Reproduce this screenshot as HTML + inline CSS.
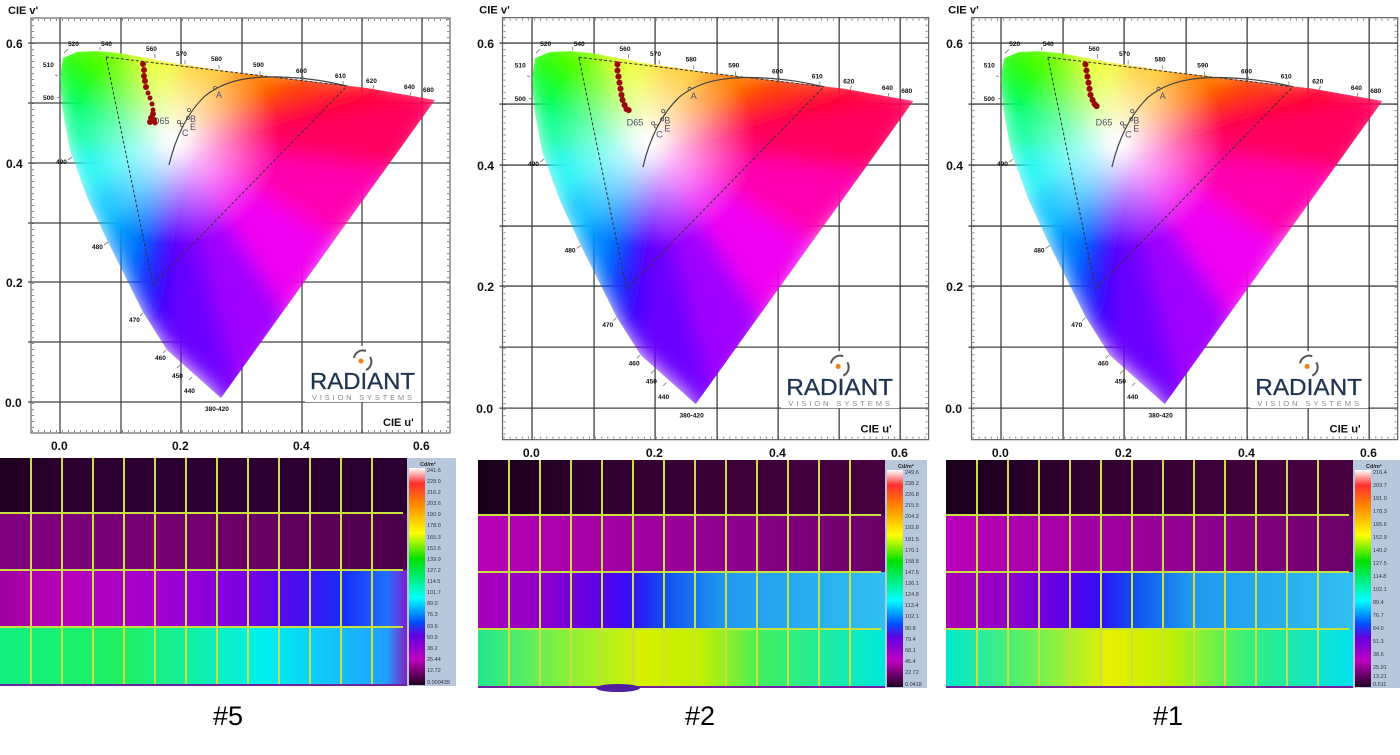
<!DOCTYPE html>
<html><head><meta charset="utf-8"><style>
html,body{margin:0;padding:0;background:#fff;width:1400px;height:755px;overflow:hidden}
svg{display:block}
.t{font-family:"Liberation Sans",sans-serif}
</style></head><body>
<svg width="1400" height="755" viewBox="0 0 1400 755" xmlns="http://www.w3.org/2000/svg">
<defs>
<clipPath id="loc"><path d="M221,398 L167,350 L143,312 L127,280 L107,240 L87,197 L70,150 L62,107 L60,77 L63,58 L77,52 L97,51 L120,53 L167,62 L233,72 L300,80 L367,88 L435,100 Z"/></clipPath>
<filter id="bl" x="-20%" y="-20%" width="140%" height="140%"><feGaussianBlur stdDeviation="10"/></filter>
<radialGradient id="wh" cx="175" cy="140" r="105" gradientUnits="userSpaceOnUse">
<stop offset="0" stop-color="#fff" stop-opacity="1"/><stop offset="0.3" stop-color="#fff" stop-opacity="0.7"/><stop offset="1" stop-color="#fff" stop-opacity="0"/></radialGradient>
<linearGradient id="cb" x1="0" y1="0" x2="0" y2="1">
<stop offset="0" stop-color="#ffffff"/><stop offset="0.07" stop-color="#ff3030"/><stop offset="0.16" stop-color="#ff8000"/><stop offset="0.3" stop-color="#ffff00"/><stop offset="0.42" stop-color="#00e000"/><stop offset="0.6" stop-color="#00ffff"/><stop offset="0.71" stop-color="#0050ff"/><stop offset="0.77" stop-color="#6000e0"/><stop offset="0.88" stop-color="#c000c0"/><stop offset="1" stop-color="#200020"/></linearGradient>
<g id="chart">
<rect x="31" y="18" width="419" height="415" fill="#fff" stroke="#666" stroke-width="1.2"/>
<g stroke="#888" stroke-width="2" stroke-dasharray="1 5">
<line x1="33" y1="19" x2="33" y2="432"/><line x1="448" y1="19" x2="448" y2="432"/>
<line x1="32" y1="20" x2="449" y2="20"/><line x1="32" y1="431" x2="449" y2="431"/></g>
<g stroke="#444" stroke-width="1.3">
<line x1="60" y1="18" x2="60" y2="433"/><line x1="121" y1="18" x2="121" y2="433"/><line x1="181" y1="18" x2="181" y2="433"/><line x1="242" y1="18" x2="242" y2="433"/><line x1="302" y1="18" x2="302" y2="433"/><line x1="362" y1="18" x2="362" y2="433"/><line x1="422" y1="18" x2="422" y2="433"/>
<line x1="28" y1="43" x2="450" y2="43"/><line x1="28" y1="103" x2="450" y2="103"/><line x1="28" y1="163" x2="450" y2="163"/><line x1="28" y1="223" x2="450" y2="223"/><line x1="28" y1="282" x2="450" y2="282"/><line x1="28" y1="342" x2="450" y2="342"/><line x1="28" y1="402" x2="450" y2="402"/></g>
<g clip-path="url(#loc)">
<g filter="url(#bl)">
<polygon points="175,140 221,398 167,350" fill="#6a00ff"/>
<polygon points="175,140 167,350 143,312" fill="#2a00ff"/>
<polygon points="175,140 143,312 127,280" fill="#0040ff"/>
<polygon points="175,140 127,280 107,240" fill="#0088ff"/>
<polygon points="175,140 107,240 87,197" fill="#00c0ff"/>
<polygon points="175,140 87,197 70,150" fill="#00f4f0"/>
<polygon points="175,140 70,150 62,107" fill="#00ff90"/>
<polygon points="175,140 62,107 50,70" fill="#00ff50"/>
<polygon points="175,140 50,70 60,40" fill="#20ff10"/>
<polygon points="175,140 60,40 100,40" fill="#50ff00"/>
<polygon points="175,140 100,40 130,45" fill="#90ff00"/>
<polygon points="175,140 130,45 180,50" fill="#e8ff00"/>
<polygon points="175,140 180,50 240,60" fill="#ffc000"/>
<polygon points="175,140 240,60 300,70" fill="#ff8000"/>
<polygon points="175,140 300,70 370,78" fill="#ff4000"/>
<polygon points="175,140 370,78 450,95" fill="#ff0030"/>
<polygon points="175,140 450,95 400,170" fill="#ff0060"/>
<polygon points="175,140 400,170 340,240" fill="#ff00b0"/>
<polygon points="175,140 340,240 290,320" fill="#f000f0"/>
<polygon points="175,140 290,320 240,400" fill="#a000ff"/>
<polygon points="175,140 240,400 221,420" fill="#7000ff"/>
</g>
<rect x="30" y="30" width="430" height="400" fill="url(#wh)"/>
</g>
<polygon points="106,57 347,86 153,285" fill="none" stroke="#333" stroke-width="1" stroke-dasharray="3 2"/>
<path d="M169,165 C175,140 185,115 205,96 C225,80 250,76 280,77 C310,78 330,82 347,86" fill="none" stroke="#444" stroke-width="1.2"/>
<g fill="none" stroke="#555" stroke-width="0.8"><circle cx="215" cy="88" r="1.6"/><circle cx="189" cy="110" r="1.6"/><circle cx="188" cy="118" r="1.6"/><circle cx="179" cy="122" r="1.6"/><circle cx="182" cy="125" r="1.6"/></g>
<g class="t" fill="#505070" font-size="9"><text x="216" y="98">A</text><text x="153" y="124">D65</text><text x="190" y="122">B</text><text x="190" y="130">E</text><text x="182" y="136">C</text></g>
<g class="t" font-weight="bold" font-size="6.5" fill="#111">
<text x="68" y="46">520</text><text x="101" y="46">540</text><text x="146" y="51">560</text><text x="176" y="56">570</text><text x="211" y="61">580</text><text x="253" y="67">590</text><text x="296" y="73">600</text><text x="335" y="78">610</text><text x="366" y="83">620</text><text x="404" y="89">640</text><text x="423" y="92">680</text>
<text x="43" y="67">510</text><text x="43" y="100">500</text><text x="56" y="164">490</text><text x="92" y="249">480</text><text x="129" y="322">470</text><text x="155" y="360">460</text><text x="172" y="378">450</text><text x="184" y="393">440</text><text x="205" y="411">380-420</text></g>
<g stroke="#777" stroke-width="0.8">
<line x1="64" y1="53" x2="68" y2="49"/><line x1="100" y1="50" x2="100" y2="47"/><line x1="155" y1="58" x2="155" y2="54"/><line x1="185" y1="64" x2="185" y2="60"/><line x1="219" y1="69" x2="219" y2="65"/><line x1="260" y1="75" x2="260" y2="71"/><line x1="303" y1="80" x2="303" y2="76"/><line x1="343" y1="85" x2="343" y2="81"/><line x1="373" y1="89" x2="374" y2="85"/><line x1="410" y1="96" x2="411" y2="92"/>
<line x1="58" y1="76" x2="55" y2="75"/><line x1="60" y1="97" x2="57" y2="98"/><line x1="72" y1="157" x2="68" y2="160"/><line x1="108" y1="242" x2="104" y2="245"/><line x1="143" y1="313" x2="140" y2="316"/><line x1="166" y1="350" x2="163" y2="353"/><line x1="180" y1="365" x2="177" y2="368"/><line x1="192" y1="377" x2="189" y2="380"/></g>
<rect x="305" y="346" width="116" height="56" fill="#fff"/>
<path d="M354,358 A9,9 0 0 1 366,351" fill="none" stroke="#555" stroke-width="2"/>
<path d="M370,357 A9,9 0 0 1 366,370" fill="none" stroke="#555" stroke-width="2"/>
<circle cx="361" cy="361" r="2.5" fill="#f08020"/>
<text class="t" x="310" y="389" font-size="23" fill="#1f3553" stroke="#1f3553" stroke-width="0.3" textLength="105" lengthAdjust="spacingAndGlyphs">RADIANT</text>
<text class="t" x="312" y="400" font-size="7.5" fill="#8a8a8a" textLength="100" lengthAdjust="spacing">VISION SYSTEMS</text>
<g class="t" font-weight="bold" fill="#111">
<text x="8" y="14" font-size="11">CIE v'</text><text x="383" y="426" font-size="11">CIE u'</text>
<g font-size="12"><text x="6" y="48">0.6</text><text x="6" y="168">0.4</text><text x="6" y="287">0.2</text><text x="5" y="407">0.0</text>
<text x="51" y="450">0.0</text><text x="172" y="450">0.2</text><text x="293" y="450">0.4</text><text x="413" y="450">0.6</text></g></g>
</g>
<g id="grid" stroke="#c8e040" stroke-width="2" fill="none">
<line x1="31" y1="0" x2="31" y2="228"/><line x1="62" y1="0" x2="62" y2="228"/><line x1="93" y1="0" x2="93" y2="228"/><line x1="124" y1="0" x2="124" y2="228"/><line x1="155" y1="0" x2="155" y2="228"/><line x1="186" y1="0" x2="186" y2="228"/><line x1="217" y1="0" x2="217" y2="228"/><line x1="248" y1="0" x2="248" y2="228"/><line x1="279" y1="0" x2="279" y2="228"/><line x1="310" y1="0" x2="310" y2="228"/><line x1="341" y1="0" x2="341" y2="228"/><line x1="372" y1="0" x2="372" y2="228"/>
<line x1="0" y1="55" x2="403" y2="55"/><line x1="0" y1="112" x2="403" y2="112"/><line x1="0" y1="169" x2="403" y2="169"/>
<line x1="0" y1="227" x2="407" y2="227" stroke="#7020a0"/></g>
</defs>

<!-- Panel 1 -->
<use href="#chart"/>
<g fill="#9a0a0a"><circle cx="143" cy="64" r="3"/><circle cx="144" cy="70" r="3"/><circle cx="144" cy="76" r="3"/><circle cx="145" cy="81" r="3"/><circle cx="146" cy="87" r="3"/><circle cx="148" cy="93" r="2.5"/><circle cx="150" cy="98" r="2.5"/><circle cx="152" cy="104" r="2.5"/><circle cx="153" cy="110" r="2.5"/><circle cx="153" cy="114" r="3"/><circle cx="151" cy="118" r="3"/><circle cx="154" cy="120" r="3"/><circle cx="150" cy="122" r="3"/><circle cx="155" cy="123" r="2.5"/></g>
<!-- Panel 2 -->
<g transform="translate(471,-0.7) scale(1.017)"><use href="#chart"/>
<g fill="#9a0a0a"><circle cx="144" cy="64" r="3"/><circle cx="144" cy="70" r="3"/><circle cx="145" cy="76" r="3"/><circle cx="146" cy="82" r="3"/><circle cx="147" cy="88" r="3"/><circle cx="148" cy="94" r="3"/><circle cx="149" cy="99" r="3"/><circle cx="151" cy="104" r="3"/><circle cx="153" cy="108" r="3"/><circle cx="155" cy="109" r="3"/></g></g>
<!-- Panel 3 -->
<g transform="translate(940,-0.7) scale(1.017)"><use href="#chart"/>
<g fill="#9a0a0a"><circle cx="143" cy="64" r="3"/><circle cx="144" cy="70" r="3"/><circle cx="145" cy="76" r="3"/><circle cx="146" cy="82" r="3"/><circle cx="147" cy="88" r="3"/><circle cx="148" cy="94" r="3"/><circle cx="150" cy="99" r="3"/><circle cx="152" cy="103" r="3"/><circle cx="154" cy="105" r="3"/></g></g>

<defs>
<linearGradient id="h1r1" x1="0" x2="1"><stop offset="0" stop-color="#200020"/><stop offset="0.2" stop-color="#2e0032"/><stop offset="1" stop-color="#2a0030"/></linearGradient>
<linearGradient id="h1r2" x1="0" x2="1"><stop offset="0" stop-color="#800080"/><stop offset="0.5" stop-color="#72006e"/><stop offset="1" stop-color="#4a0048"/></linearGradient>
<linearGradient id="h1r3" x1="0" x2="1"><stop offset="0" stop-color="#a000a0"/><stop offset="0.15" stop-color="#b800b8"/><stop offset="0.4" stop-color="#a000d0"/><stop offset="0.6" stop-color="#7a00e0"/><stop offset="0.75" stop-color="#4010f0"/><stop offset="0.85" stop-color="#1830f8"/><stop offset="0.95" stop-color="#2070ff"/><stop offset="1" stop-color="#8020d0"/></linearGradient>
<linearGradient id="h1r4" x1="0" x2="1"><stop offset="0" stop-color="#10f080"/><stop offset="0.3" stop-color="#20f060"/><stop offset="0.5" stop-color="#10f0b0"/><stop offset="0.65" stop-color="#00f0f0"/><stop offset="0.8" stop-color="#10c8f8"/><stop offset="0.95" stop-color="#20a0ff"/><stop offset="1" stop-color="#8020c0"/></linearGradient>
<linearGradient id="h2r1" x1="0" x2="1"><stop offset="0" stop-color="#180018"/><stop offset="0.3" stop-color="#300030"/><stop offset="1" stop-color="#480040"/></linearGradient>
<linearGradient id="h2r2" x1="0" x2="1"><stop offset="0" stop-color="#b800b8"/><stop offset="0.5" stop-color="#980098"/><stop offset="1" stop-color="#6a0066"/></linearGradient>
<linearGradient id="h2r3" x1="0" x2="1"><stop offset="0" stop-color="#a800b8"/><stop offset="0.15" stop-color="#9000c8"/><stop offset="0.3" stop-color="#5a00e8"/><stop offset="0.38" stop-color="#3010f8"/><stop offset="0.46" stop-color="#1050f0"/><stop offset="0.6" stop-color="#2098f0"/><stop offset="1" stop-color="#30c0f0"/></linearGradient>
<linearGradient id="h2r4" x1="0" x2="1"><stop offset="0" stop-color="#20e890"/><stop offset="0.2" stop-color="#80f040"/><stop offset="0.4" stop-color="#d8f000"/><stop offset="0.55" stop-color="#c0f000"/><stop offset="0.7" stop-color="#40f060"/><stop offset="1" stop-color="#00e8e0"/></linearGradient>
<linearGradient id="h3r4" x1="0" x2="1"><stop offset="0" stop-color="#00e8d0"/><stop offset="0.2" stop-color="#60f060"/><stop offset="0.4" stop-color="#e8f000"/><stop offset="0.55" stop-color="#c0f000"/><stop offset="0.75" stop-color="#30f080"/><stop offset="1" stop-color="#00e0f0"/></linearGradient>
</defs>
<g transform="translate(0,458)">
<rect x="0" y="0" width="407" height="55" fill="url(#h1r1)"/>
<rect x="0" y="55" width="407" height="57" fill="url(#h1r2)"/>
<rect x="0" y="112" width="407" height="57" fill="url(#h1r3)"/>
<rect x="0" y="169" width="407" height="59" fill="url(#h1r4)"/>
<use href="#grid"/>
<rect x="407" y="0" width="49" height="228" fill="#b8c8dc"/>
<rect x="409" y="10" width="16" height="217" fill="url(#cb)"/>
<text class="t" x="420" y="8" font-size="5.5" font-weight="bold" fill="#222">Cd/m²</text>
<g class="t" font-size="5.5" fill="#334">
<text x="427" y="14">241.6</text><text x="427" y="25">228.9</text><text x="427" y="36">216.2</text><text x="427" y="47">203.6</text><text x="427" y="58">190.9</text><text x="427" y="69">178.0</text><text x="427" y="81">165.3</text><text x="427" y="92">152.6</text><text x="427" y="103">139.9</text><text x="427" y="114">127.2</text><text x="427" y="125">114.5</text><text x="427" y="136">101.7</text><text x="427" y="147">89.0</text><text x="427" y="158">76.3</text><text x="427" y="170">63.6</text><text x="427" y="181">50.9</text><text x="427" y="192">38.2</text><text x="427" y="203">25.44</text><text x="427" y="214">12.72</text><text x="427" y="226">0.000439</text></g>
</g>
<g transform="translate(478,460)">
<rect x="0" y="0" width="407" height="55" fill="url(#h2r1)"/>
<rect x="0" y="55" width="407" height="57" fill="url(#h2r2)"/>
<rect x="0" y="112" width="407" height="57" fill="url(#h2r3)"/>
<rect x="0" y="169" width="407" height="59" fill="url(#h2r4)"/>
<use href="#grid"/>
<ellipse cx="140" cy="228" rx="22" ry="4" fill="#5020a0"/>
<rect x="407" y="0" width="42" height="228" fill="#b8c8dc"/>
<rect x="409" y="10" width="16" height="217" fill="url(#cb)"/>
<text class="t" x="420" y="8" font-size="5.5" font-weight="bold" fill="#222">Cd/m²</text>
<g class="t" font-size="5.5" fill="#334">
<text x="427" y="14">249.6</text><text x="427" y="25">238.2</text><text x="427" y="36">226.8</text><text x="427" y="47">215.5</text><text x="427" y="58">204.2</text><text x="427" y="69">192.8</text><text x="427" y="81">181.5</text><text x="427" y="92">170.1</text><text x="427" y="103">158.8</text><text x="427" y="114">147.5</text><text x="427" y="125">136.1</text><text x="427" y="136">124.8</text><text x="427" y="147">113.4</text><text x="427" y="158">102.1</text><text x="427" y="170">90.8</text><text x="427" y="181">79.4</text><text x="427" y="192">68.1</text><text x="427" y="203">45.4</text><text x="427" y="214">22.72</text><text x="427" y="226">0.0418</text></g>
</g>
<g transform="translate(946,460)">
<rect x="0" y="0" width="407" height="55" fill="url(#h2r1)"/>
<rect x="0" y="55" width="407" height="57" fill="url(#h2r2)"/>
<rect x="0" y="112" width="407" height="57" fill="url(#h2r3)"/>
<rect x="0" y="169" width="407" height="59" fill="url(#h3r4)"/>
<use href="#grid"/>
<rect x="407" y="0" width="47" height="228" fill="#b8c8dc"/>
<rect x="409" y="10" width="16" height="217" fill="url(#cb)"/>
<text class="t" x="420" y="8" font-size="5.5" font-weight="bold" fill="#222">Cd/m²</text>
<g class="t" font-size="5.5" fill="#334">
<text x="427" y="14">216.4</text><text x="427" y="27">203.7</text><text x="427" y="40">191.0</text><text x="427" y="53">178.3</text><text x="427" y="66">165.6</text><text x="427" y="79">152.9</text><text x="427" y="92">140.2</text><text x="427" y="105">127.5</text><text x="427" y="118">114.8</text><text x="427" y="131">102.1</text><text x="427" y="144">89.4</text><text x="427" y="157">76.7</text><text x="427" y="170">64.0</text><text x="427" y="183">51.3</text><text x="427" y="196">38.6</text><text x="427" y="209">25.91</text><text x="427" y="218">13.21</text><text x="427" y="226">0.511</text></g>
</g>
<g class="t" font-size="27" fill="#000" text-anchor="middle">
<text x="228" y="725">#5</text><text x="700" y="725">#2</text><text x="1168" y="725">#1</text></g>
</svg>
</body></html>
